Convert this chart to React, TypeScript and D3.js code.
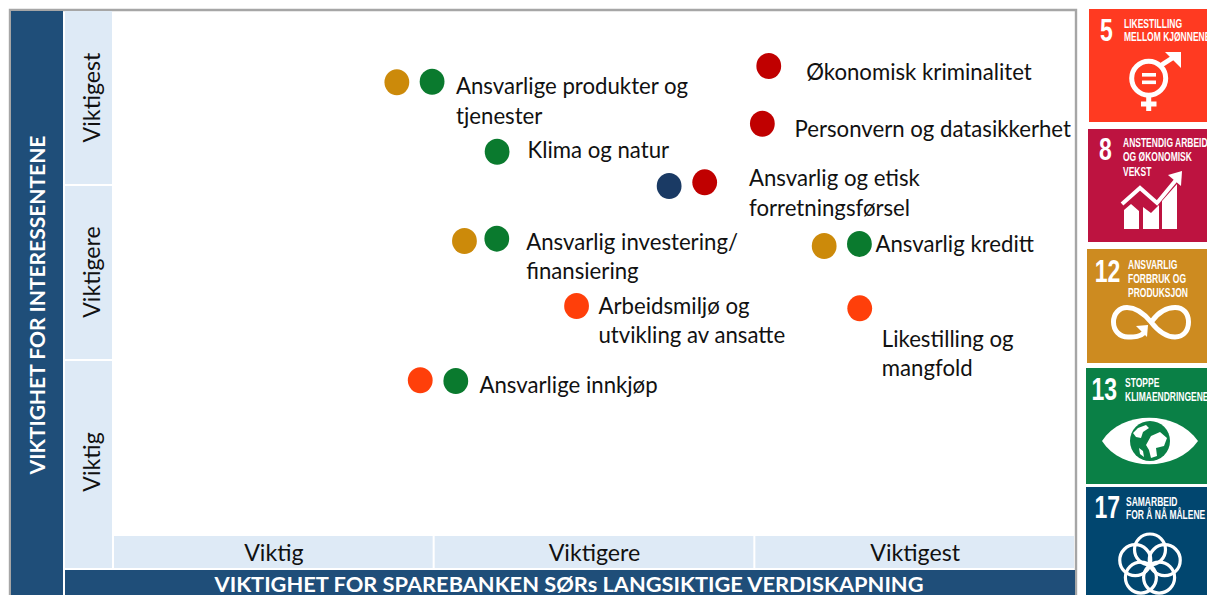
import React from "react";
import * as d3 from "d3";

// ---- data -------------------------------------------------------------
const levels = ["Viktig", "Viktigere", "Viktigest"];
const xTitle = "VIKTIGHET FOR SPAREBANKEN SØRs LANGSIKTIGE VERDISKAPNING";
const yTitle = "VIKTIGHET FOR INTERESSENTENE";

// importance (0-3) for the bank, importance (0-3) for stakeholders, SDG number
const dotX = [0.883, 0.993, 1.196, 1.733, 1.844, 2.044, 2.024, 1.094, 1.195, 1.444, 0.956, 1.067, 2.217, 2.327, 2.328];
const dotY = [2.593, 2.596, 2.196, 2.0, 2.021, 2.686, 2.356, 1.686, 1.699, 1.314, 0.89, 0.886, 1.657, 1.669, 1.301];
const dotGoal = [12, 13, 13, 17, 8, 8, 8, 12, 13, 5, 5, 13, 12, 13, 5];

const topics = [
  ["Ansvarlige produkter og", "tjenester"],
  ["Klima og natur"],
  ["Ansvarlig og etisk", "forretningsførsel"],
  ["Økonomisk kriminalitet"],
  ["Personvern og datasikkerhet"],
  ["Ansvarlig investering/", "finansiering"],
  ["Arbeidsmiljø og", "utvikling av ansatte"],
  ["Ansvarlige innkjøp"],
  ["Ansvarlig kreditt"],
  ["Likestilling og", "mangfold"],
];

const goalNumbers = [5, 8, 12, 13, 17];
const goalTexts = [
  ["LIKESTILLING", "MELLOM KJØNNENE"],
  ["ANSTENDIG ARBEID", "OG ØKONOMISK", "VEKST"],
  ["ANSVARLIG", "FORBRUK OG", "PRODUKSJON"],
  ["STOPPE", "KLIMAENDRINGENE"],
  ["SAMARBEID", "FOR Å NÅ MÅLENE"],
];

// ---- layout / style ----------------------------------------------------
const W = 1207, H = 595;
const FONT = "Lato, Carlito, sans-serif";
const NARROW = "'Liberation Sans', sans-serif";
const DARK = "#1F4E79", LIGHT = "#DEEAF6", GRAY = "#A6A6A6";
const dotColor: Record<number, string> = { 5: "#FF3F0A", 8: "#C00000", 12: "#CC8A0A", 13: "#0A7A2E", 17: "#1A3A64" };

const labelAt = [
  [456, 94], [527.5, 158.2], [749, 186.2], [806.2, 79.5], [794.5, 137.2],
  [526.2, 249.8], [598.5, 313.8], [479.5, 393.2], [875.5, 252.2], [881.8, 346.5],
];
const tiles = [
  { x: 1089, y: 9, h: 113, fill: "#FF3A21", nx: 1106.3, ny: 41, tx: 1124, ty: [27.5, 41] },
  { x: 1088, y: 129, h: 113, fill: "#BD1340", nx: 1105.3, ny: 159.5, tx: 1123, ty: [146.5, 161, 176] },
  { x: 1087, y: 249, h: 114, fill: "#CD8B20", nx: 1107.5, ny: 281.7, tx: 1128, ty: [268.5, 282.5, 296.5] },
  { x: 1086, y: 368, h: 116, fill: "#0A8046", nx: 1104.3, ny: 400, tx: 1125, ty: [386.5, 400.5] },
  { x: 1086, y: 487, h: 108, fill: "#01466F", nx: 1107.3, ny: 518, tx: 1126, ty: [505.5, 518.5] },
];

const xScale = d3.scaleLinear().domain([0, 3]).range([114, 1075]);
const yScale = d3.scaleLinear().domain([0, 3]).range([536, 11]);
const xBand = d3.scaleBand().domain(levels).range([114, 1076]);
const yCells = [
  { y: 361, h: 207, c: 462 },
  { y: 186, h: 173, c: 272 },
  { y: 11, h: 173, c: 97.5 },
];

function Icon({ n }: { n: number }) {
  const s = { fill: "none", stroke: "#fff", strokeLinecap: "butt" as const };
  if (n === 5)
    return (
      <g>
        <circle cx={1148.7} cy={78.3} r={17} {...s} strokeWidth={5} />
        <rect x={1142} y={73} width={14} height={3.6} fill="#fff" />
        <rect x={1142} y={80.5} width={14} height={3.6} fill="#fff" />
        <path d="M1148.7 96V111M1141 104H1156.5" {...s} strokeWidth={5} />
        <path d="M1160 66L1177 55" {...s} strokeWidth={5} />
        <path d="M1165 52H1181V68Z" fill="#fff" />
      </g>
    );
  if (n === 8)
    return (
      <g>
        <path d="M1124 229V210L1131 204L1139 211V229ZM1143 229V207L1151 213L1159 205V229ZM1162 229V201L1177 184V229Z" fill="#fff" />
        <path d="M1122 204L1140 188L1157 203L1176 180" {...s} strokeWidth={4} />
        <path d="M1168 175L1182 171L1181 186Z" fill="#fff" />
      </g>
    );
  if (n === 12)
    return (
      <g>
        <path
          d="M1145 332C1140 337 1135 337 1128 337C1119 337 1113.500 330 1113.500 322C1113.500 314 1119 307.500 1127 307.500C1137 307.500 1146 316 1151 322C1158 331 1166 337 1175 337C1184 337 1188.500 330 1188.500 322C1188.500 314 1184 307.500 1175 307.500C1166 307.500 1158 313 1152 321"
          {...s}
          strokeWidth={5}
        />
        <path d="M1136 326L1148 325L1147 337Z" fill="#fff" />
      </g>
    );
  if (n === 13)
    return (
      <g>
        <path d="M1102 441C1122 410 1176 410 1198 441C1176 472 1122 472 1102 441Z" fill="#fff" />
        <circle cx={1150} cy={441} r={20} fill="#0A8046" />
        <path d="M1133 433L1138 428L1146 425L1149 428L1143 432L1141 438L1136 437ZM1151 436L1160 432L1167 438L1164 446L1156 448L1157 456L1151 458L1149 450L1146 445ZM1139 448L1143 451L1144 457L1140 454Z" fill="#fff" />
      </g>
    );
  return (
    <g>
      {d3.range(5).map((i) => {
        const a = -Math.PI / 2 + (i * 2 * Math.PI) / 5;
        return <circle key={i} cx={1150 + 15.5 * Math.cos(a)} cy={565 + 15.5 * Math.sin(a)} r={15.5} {...s} strokeWidth={3.2} />;
      })}
    </g>
  );
}

export default function App() {
  return (
    <svg width={W} height={H} viewBox={`0 0 ${W} ${H}`} style={{ position: "absolute", left: 0, top: 0, background: "#fff" }}>
      {/* frame */}
      <path d="M10 595V10H1076V595" fill="none" stroke={GRAY} strokeWidth={2.4} />
      {/* y-side */}
      <rect x={11} y={11} width={52} height={584} fill={DARK} />
      <text transform="translate(45,305) rotate(-90)" textAnchor="middle" fontFamily={FONT} fontWeight={700} fontSize={21} fill="#fff">{yTitle}</text>
      {yCells.map((c, i) => (
        <g key={i}>
          <rect x={65} y={c.y} width={47} height={c.h} fill={LIGHT} />
          <text transform={`translate(100,${c.c}) rotate(-90)`} textAnchor="middle" fontFamily={FONT} fontSize={23.2} fill="#111">{levels[i]}</text>
        </g>
      ))}
      {/* x-side */}
      {levels.map((l) => (
        <g key={l}>
          <rect x={xBand(l)!} y={536} width={xBand.bandwidth() - 2} height={32} fill={LIGHT} />
          <text x={xBand(l)! + xBand.bandwidth() / 2 - 0.5} y={561} textAnchor="middle" fontFamily={FONT} fontSize={23.2} fill="#111">{l}</text>
        </g>
      ))}
      <rect x={65} y={570} width={1010} height={25} fill={DARK} />
      <text x={569} y={592} textAnchor="middle" fontFamily={FONT} fontWeight={700} fontSize={21.8} fill="#fff">{xTitle}</text>
      {/* dots */}
      {dotX.map((v, i) => (
        <ellipse key={i} cx={xScale(v)} cy={yScale(dotY[i])} rx={12.4} ry={13} fill={dotColor[dotGoal[i]]} />
      ))}
      {/* labels */}
      {topics.map((lines, i) => (
        <text key={i} fontFamily={FONT} fontSize={22.2} fill="#111">
          {lines.map((t, j) => (
            <tspan key={j} x={labelAt[i][0]} y={labelAt[i][1] + j * 29.5}>{t}</tspan>
          ))}
        </text>
      ))}
      {/* SDG tiles */}
      {tiles.map((t, i) => (
        <g key={i}>
          <rect x={t.x} y={t.y} width={W - t.x} height={t.h} fill={t.fill} />
          <text transform={`translate(${t.nx},${t.ny}) scale(0.72,1)`} textAnchor="middle" fontFamily={NARROW} fontWeight={700} fontSize={32} fill="#fff">{goalNumbers[i]}</text>
          {goalTexts[i].map((s, j) => (
            <text key={j} transform={`translate(${t.tx},${t.ty[j]}) scale(0.63,1)`} fontFamily={NARROW} fontWeight={700} fontSize={13.5} fill="#fff">{s}</text>
          ))}
          <Icon n={goalNumbers[i]} />
        </g>
      ))}
    </svg>
  );
}
